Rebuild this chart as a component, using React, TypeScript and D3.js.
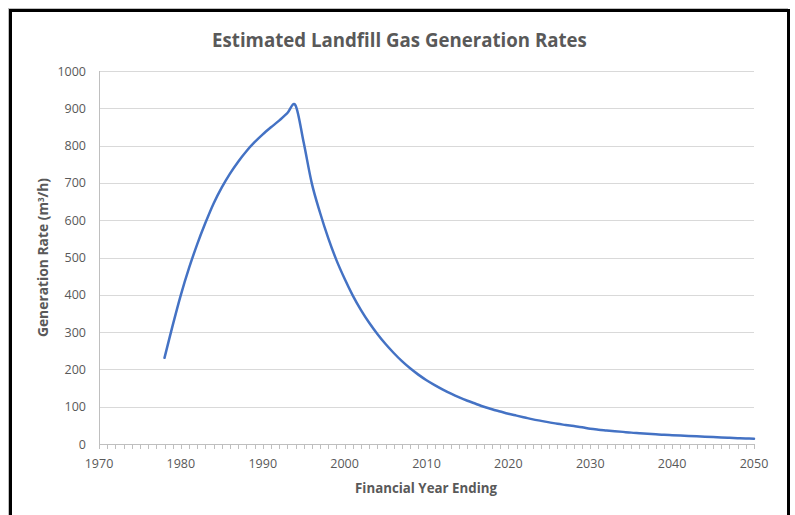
import React, { useEffect, useRef } from 'react';
import * as d3 from 'd3';

// Estimated landfill gas generation (m3/h) per financial year ending
const years: number[] = d3.range(1978, 2051);
const rates: number[] = [
  231, 318, 400, 472, 536, 593, 645, 688, 725, 757,
  785, 809, 830, 849, 867, 887, 908, 808, 698, 620,
  552, 493, 443, 398, 359, 325, 295, 268, 244, 222,
  203, 186, 171, 158, 146, 135, 125, 116, 108, 100,
  93, 87, 81, 76, 71, 66, 62, 58, 54, 51,
  48, 45, 41, 38.5, 36.5, 34.5, 32.5, 30.5, 29, 27.5,
  26, 24.5, 23.5, 22.5, 21.5, 20.5, 19.5, 18.5, 17.5, 16.5,
  15.7, 15, 14.3
];
const xTicks: number[] = [1970, 1980, 1990, 2000, 2010, 2020, 2030, 2040, 2050];
const yTicks: number[] = [0, 100, 200, 300, 400, 500, 600, 700, 800, 900, 1000];

const TITLE = 'Estimated Landfill Gas Generation Rates';
const X_TITLE = 'Financial Year Ending';

export default function App() {
  const ref = useRef<SVGSVGElement | null>(null);

  useEffect(() => {
    const el = ref.current;
    if (!el) return;
    const svg = d3.select(el);
    svg.selectAll('*').remove();

    const width = 795, height = 515;
    const margin = {top: 71, right: 41, bottom: 71, left: 99};
    const innerW = width - margin.left - margin.right;
    const innerH = height - margin.top - margin.bottom;
    const font = '"Open Sans", Lato, sans-serif';
    const textColor = '#595959';

    // scale a text's font size so it spans the target width
    const fit = (sel: d3.Selection<SVGTextElement, unknown, null, undefined>, target: number) => {
      const node = sel.node();
      if (!node) return;
      const fs = parseFloat(sel.attr('font-size'));
      const w = node.getComputedTextLength();
      if (w > 0) sel.attr('font-size', (fs * target / w).toFixed(2));
    };

    svg.append('rect').attr('width', width).attr('height', height).attr('fill', '#fff');

    // outer frame
    svg.append('rect').attr('x', 8.5).attr('y', 8.5).attr('width', 779).attr('height', 520)
      .attr('fill', 'none').attr('stroke', '#bfbfbf').attr('stroke-width', 1);
    svg.append('rect').attr('x', 10.5).attr('y', 10.5).attr('width', 778).attr('height', 520)
      .attr('fill', 'none').attr('stroke', '#000').attr('stroke-width', 3);

    const x = d3.scaleLinear().domain([1970, 2050]).range([0, innerW]);
    const y = d3.scaleLinear().domain([0, 1000]).range([innerH, 0]);

    const g = svg.append('g').attr('transform', `translate(${margin.left},${margin.top})`);

    // gridlines
    g.append('g').selectAll('line').data(yTicks.filter(d => d > 0)).enter().append('line')
      .attr('x1', 0).attr('x2', innerW)
      .attr('y1', d => Math.round(y(d)) + 0.5).attr('y2', d => Math.round(y(d)) + 0.5)
      .attr('stroke', '#d9d9d9').attr('stroke-width', 1);

    // axis lines
    g.append('line').attr('x1', 0.5).attr('x2', 0.5).attr('y1', 0).attr('y2', innerH)
      .attr('stroke', '#bfbfbf');
    g.append('line').attr('x1', 0).attr('x2', innerW).attr('y1', innerH + 0.5).attr('y2', innerH + 0.5)
      .attr('stroke', '#bfbfbf');

    // x ticks every year
    g.append('g').selectAll('line').data(d3.range(1970, 2051)).enter().append('line')
      .attr('x1', d => Math.round(x(d)) + 0.5).attr('x2', d => Math.round(x(d)) + 0.5)
      .attr('y1', innerH).attr('y2', innerH + 5)
      .attr('stroke', '#bfbfbf');

    // tick labels
    g.append('g').selectAll('text').data(xTicks).enter().append('text')
      .attr('x', d => x(d)).attr('y', innerH + 24)
      .attr('text-anchor', 'middle').attr('font-family', font).attr('font-size', 12.5)
      .attr('fill', textColor).text(d => String(d));
    g.append('g').selectAll('text').data(yTicks).enter().append('text')
      .attr('x', -13).attr('y', d => y(d) + 4.5)
      .attr('text-anchor', 'end').attr('font-family', font).attr('font-size', 12.5)
      .attr('fill', textColor).text(d => String(d));

    // series
    const line = d3.line<number>()
      .x((_, i) => x(years[i]))
      .y(d => y(d))
      .curve(d3.curveCatmullRom.alpha(0));
    g.append('path').datum(rates).attr('fill', 'none').attr('stroke', '#4472c4')
      .attr('stroke-width', 2.5).attr('stroke-linejoin', 'round').attr('stroke-linecap', 'round')
      .attr('d', line);

    // titles
    const title = svg.append('text').attr('x', 399.5).attr('y', 47).attr('text-anchor', 'middle')
      .attr('font-family', font).attr('font-weight', 700).attr('font-size', 18)
      .attr('fill', textColor).text(TITLE);
    fit(title, 375);
    const xt = svg.append('text').attr('x', 426).attr('y', 493).attr('text-anchor', 'middle')
      .attr('font-family', font).attr('font-weight', 700).attr('font-size', 12)
      .attr('fill', textColor).text(X_TITLE);
    fit(xt, 142);
    const yt = svg.append('text')
      .attr('transform', `translate(48,${margin.top + innerH / 2}) rotate(-90)`)
      .attr('text-anchor', 'middle').attr('font-family', font).attr('font-weight', 700)
      .attr('font-size', 12).attr('fill', textColor);
    yt.append('tspan').text('Generation Rate (m');
    yt.append('tspan').attr('font-size', 8).attr('dy', -4).text('3');
    yt.append('tspan').attr('dy', 4).text('/h)');
    fit(yt, 160);
  }, []);

  return (
    <svg ref={ref} width={795} height={515}
      style={{position: 'absolute', left: 0, top: 0, display: 'block'}} />
  );
}
